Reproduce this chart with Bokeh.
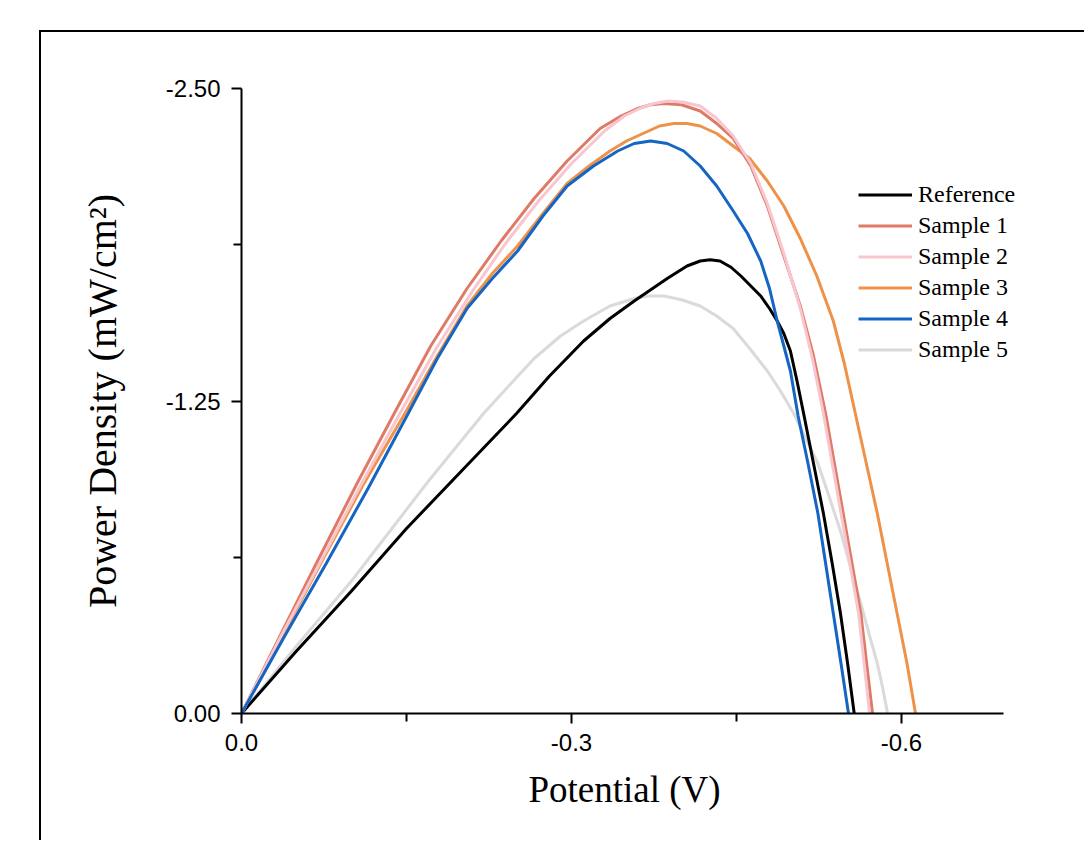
from bokeh.plotting import figure
from bokeh.models import Range1d, FixedTicker, PrintfTickFormatter, Legend, LegendItem, Title
from bokeh.embed import file_html
from bokeh.resources import INLINE

# ---- data (Potential V, Power density mW/cm^2) ----
names = ["Reference", "Sample 1", "Sample 2", "Sample 3", "Sample 4", "Sample 5"]
colors = ["#000000", "#DE7A66", "#F7C6CF", "#EF9248", "#1565C4", "#DADADA"]

ref_v = [0, -0.050, -0.100, -0.150, -0.200, -0.250, -0.280, -0.311, -0.335, -0.357, -0.387, -0.405,
         -0.417, -0.426, -0.435, -0.445, -0.454, -0.463, -0.472, -0.480, -0.487, -0.493, -0.499,
         -0.505, -0.511, -0.520, -0.529, -0.537, -0.5445, -0.551, -0.557]
ref_p = [0, -0.25, -0.49, -0.74, -0.97, -1.20, -1.35, -1.49, -1.58, -1.65, -1.74, -1.79,
         -1.81, -1.815, -1.81, -1.785, -1.75, -1.71, -1.67, -1.62, -1.57, -1.52, -1.45,
         -1.33, -1.20, -1.00, -0.80, -0.60, -0.40, -0.20, 0]

s1_v = [0, -0.035, -0.068, -0.105, -0.140, -0.172, -0.205, -0.236, -0.266, -0.296, -0.326, -0.345,
        -0.360, -0.372, -0.384, -0.400, -0.417, -0.432, -0.447, -0.463, -0.478, -0.493, -0.508,
        -0.520, -0.531, -0.547, -0.563, -0.5736]
s1_p = [0, -0.31, -0.60, -0.92, -1.21, -1.47, -1.70, -1.89, -2.06, -2.21, -2.34, -2.39,
        -2.42, -2.435, -2.44, -2.435, -2.41, -2.36, -2.30, -2.19, -2.03, -1.83, -1.63,
        -1.43, -1.20, -0.80, -0.40, 0]

s2_v = [0, -0.036, -0.071, -0.108, -0.144, -0.177, -0.210, -0.240, -0.270, -0.300, -0.330, -0.348,
        -0.362, -0.375, -0.388, -0.402, -0.417, -0.432, -0.447, -0.463, -0.478, -0.493, -0.508,
        -0.519, -0.529, -0.545, -0.561, -0.571]
s2_p = [0, -0.31, -0.60, -0.91, -1.20, -1.46, -1.69, -1.88, -2.05, -2.20, -2.33, -2.39,
        -2.42, -2.44, -2.45, -2.445, -2.43, -2.38, -2.31, -2.20, -2.04, -1.84, -1.62,
        -1.42, -1.20, -0.80, -0.40, 0]

s3_v = [0, -0.037, -0.072, -0.110, -0.1485, -0.178, -0.205, -0.228, -0.251, -0.274, -0.296, -0.316,
        -0.335, -0.350, -0.365, -0.380, -0.393, -0.405, -0.417, -0.432, -0.447, -0.462, -0.478,
        -0.493, -0.508, -0.523, -0.538, -0.548, -0.558, -0.568, -0.578, -0.587, -0.596, -0.605, -0.6127]
s3_p = [0, -0.31, -0.60, -0.91, -1.20, -1.43, -1.63, -1.76, -1.87, -2.00, -2.12, -2.19,
        -2.25, -2.29, -2.32, -2.35, -2.36, -2.36, -2.35, -2.32, -2.27, -2.22, -2.13,
        -2.03, -1.90, -1.75, -1.57, -1.40, -1.20, -1.00, -0.80, -0.60, -0.40, -0.20, 0]

s4_v = [0, -0.038, -0.077, -0.115, -0.1515, -0.178, -0.205, -0.228, -0.251, -0.274, -0.296, -0.320,
        -0.342, -0.357, -0.372, -0.387, -0.402, -0.417, -0.432, -0.447, -0.460, -0.472, -0.480,
        -0.487, -0.493, -0.499, -0.506, -0.515, -0.524, -0.531, -0.538, -0.545, -0.5518]
s4_p = [0, -0.30, -0.60, -0.90, -1.20, -1.42, -1.62, -1.74, -1.85, -1.99, -2.11, -2.19,
        -2.25, -2.28, -2.29, -2.28, -2.25, -2.19, -2.11, -2.01, -1.92, -1.81, -1.70,
        -1.57, -1.47, -1.37, -1.19, -1.00, -0.80, -0.60, -0.40, -0.20, 0]

s5_v = [0, -0.050, -0.100, -0.135, -0.170, -0.220, -0.245, -0.266, -0.290, -0.311, -0.335, -0.357,
        -0.370, -0.384, -0.400, -0.417, -0.432, -0.447, -0.462, -0.478, -0.490, -0.502, -0.513,
        -0.524, -0.534, -0.5445, -0.554, -0.563, -0.571, -0.578, -0.583, -0.5873]
s5_p = [0, -0.27, -0.53, -0.73, -0.93, -1.20, -1.32, -1.42, -1.51, -1.57, -1.63, -1.66,
        -1.67, -1.67, -1.655, -1.63, -1.59, -1.54, -1.46, -1.37, -1.29, -1.20, -1.10,
        -1.00, -0.87, -0.73, -0.58, -0.44, -0.31, -0.20, -0.10, 0]

x_ticks = [0, -0.3, -0.6]
x_minor = [-0.15, -0.45]
y_ticks = [0, -1.25, -2.5]
y_minor = [-0.625, -1.875]

series = [(ref_v, ref_p), (s1_v, s1_p), (s2_v, s2_p), (s3_v, s3_p), (s4_v, s4_p), (s5_v, s5_p)]

p = figure(width=1045, height=810,
           x_range=Range1d(0, -0.7627), y_range=Range1d(0, -2.5),
           output_backend="svg", toolbar_location=None,
           min_border_left=200, min_border_right=6, min_border_top=56, min_border_bottom=129)
p.margin = (30, 0, 0, 39)
p.styles = {"border-top": "2px solid black", "border-left": "2px solid black"}
p.outline_line_color = None
p.grid.visible = False
p.background_fill_color = "white"
p.border_fill_color = "white"

# axes
p.xaxis.ticker = FixedTicker(ticks=x_ticks, minor_ticks=x_minor)
p.yaxis.ticker = FixedTicker(ticks=y_ticks, minor_ticks=y_minor)
p.xaxis.formatter = PrintfTickFormatter(format="%.1f")
p.yaxis.formatter = PrintfTickFormatter(format="%.2f")
p.xaxis.bounds = (0, -0.693)
for ax in (p.xaxis, p.yaxis):
    ax.axis_line_width = 2
    ax.axis_line_color = "black"
    ax.major_tick_line_width = 2
    ax.minor_tick_line_width = 2
    ax.major_tick_line_color = "black"
    ax.minor_tick_line_color = "black"
    ax.major_tick_in = 0
    ax.major_tick_out = 10
    ax.minor_tick_in = 0
    ax.minor_tick_out = 8
    ax.major_label_text_font = "Liberation Sans"
    ax.major_label_text_font_size = "24px"
    ax.major_label_text_color = "black"
    ax.axis_label_text_font = "Liberation Serif"
    ax.axis_label_text_font_style = "normal"
    ax.axis_label_text_color = "black"

p.yaxis.axis_label = "Power Density (mW/cm²)"
p.yaxis.axis_label_text_font_size = "40px"
p.xaxis.major_label_standoff = 10
p.yaxis.major_label_standoff = 11
p.yaxis.axis_label_standoff = 38

# x-axis title, centred under the visible axis (0 .. -0.693)
xtitle = Title(text="Potential (V)", align="left", offset=287, vertical_align="top",
               standoff=30, text_font="Liberation Serif", text_font_size="37px",
               text_font_style="normal", text_color="black")
p.add_layout(xtitle, "below")

renderers = {}
draw_order = [5, 0, 3, 1, 2, 4]
for i in draw_order:
    v, pw = series[i]
    renderers[i] = p.line(v, pw, line_color=colors[i], line_width=3)

items = [LegendItem(label=names[i], renderers=[renderers[i]]) for i in range(6)]
legend = Legend(items=items, location=(617, 348), margin=0, padding=0, spacing=0,
                glyph_width=54, glyph_height=31, label_height=31, label_standoff=6,
                label_text_font="Liberation Serif", label_text_font_size="24px",
                label_text_color="black", border_line_color=None,
                background_fill_alpha=0)
p.add_layout(legend)

open("out.html", "w").write(file_html(p, INLINE))
